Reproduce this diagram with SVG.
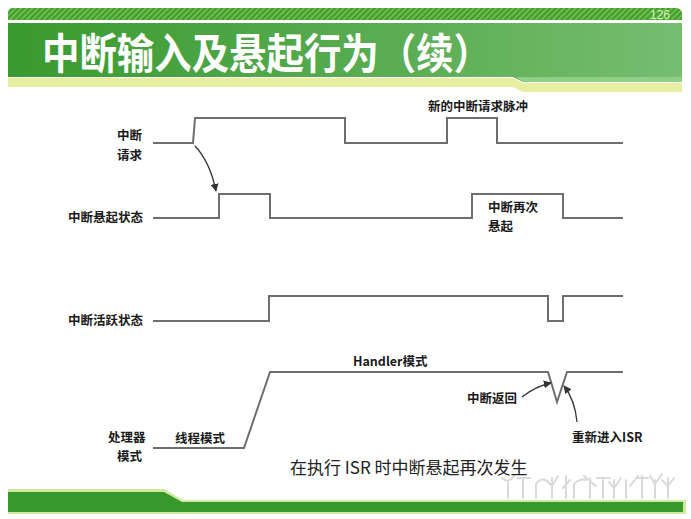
<svg xmlns="http://www.w3.org/2000/svg" width="691" height="519" viewBox="0 0 691 519">
<defs>
<linearGradient id="bandGrad" x1="0" y1="0" x2="1" y2="0">
<stop offset="0" stop-color="#399a2f"/>
<stop offset="0.6" stop-color="#5cae55"/>
<stop offset="1" stop-color="#76bd70"/>
</linearGradient>
<pattern id="hatch" width="4" height="4" patternUnits="userSpaceOnUse" patternTransform="rotate(45)">
<rect width="4" height="4" fill="#3f9e2c"/>
<rect width="1.5" height="4" fill="#7cc257"/>
</pattern>
<marker id="arr" viewBox="0 0 10 10" refX="9" refY="5" markerWidth="8" markerHeight="8" orient="auto" markerUnits="userSpaceOnUse">
<path d="M0,0 L10,5 L0,10 Z" fill="#333"/>
</marker>
<style>
.wave{fill:none;stroke:#6e6e6e;stroke-width:2}
.lbl{font-family:"Noto Sans CJK SC","Noto Sans",sans-serif;font-size:12.5px;font-weight:bold;fill:#1a1a1a}
.conn{fill:none;stroke:#333;stroke-width:1.3;marker-end:url(#arr)}
.plant{fill:none;stroke:#dadada;stroke-width:2;stroke-linecap:round}
</style>
</defs>
<rect width="691" height="519" fill="#ffffff"/>
<g id="header">
<path d="M8,13 Q8,8 13,8 H676 Q682,8 682,14 V20 H8 Z" fill="url(#hatch)"/>
<path d="M8,78 H513 L523,83 H682 V92 H523 L513,87 H8 Z" fill="#e6eea2"/>
<path d="M8,23 H682 V82 H523 L513,77 H8 Z" fill="url(#bandGrad)"/>
<path d="M516,77 H682 V82 H523 Z" fill="#8fcf85"/>
<text x="650" y="19" font-family="'Liberation Sans',Arial,sans-serif" font-size="12" fill="#d9f2c4">126</text>
<text x="42" y="69" font-family="'Noto Sans CJK SC',sans-serif" font-size="42" font-weight="bold" fill="#ffffff" textLength="449" lengthAdjust="spacingAndGlyphs">中断输入及悬起行为（续）</text>
</g>
<g id="footer">
<path d="M8,489 H164 L183,500 H686 V514 H8 Z" fill="#cfe9a0"/>
<path d="M8,492 H164 L182,502 H683 V512 H8 Z" fill="#37992b"/>
</g>
<g id="plants">
<path class="plant" d="M508,498 V482 M502,478 Q508,484 514,476 M523,498 V478 M517,478 H530 M536,498 V484 Q540,478 545,480 M552,498 V478 M546,480 L552,486 L558,476 M563,488 L570,480 M566,498 V476 M574,498 V484 Q580,478 586,480 M590,498 V478 M584,476 L596,486 M603,498 V480 M597,478 H610 M614,498 V480 M609,482 L614,488 L621,478 M626,498 V480 M630,486 L638,476 M642,498 V476 M636,478 L648,478 M655,498 V480 M650,476 L655,484 L662,474 M668,498 V478 M662,480 L668,486 L674,478"/>
</g>
<g id="row-request">
<text class="lbl" x="117" y="140">中断</text>
<text class="lbl" x="117" y="160">请求</text>
<path class="wave" d="M153,143 H193 L195,118 H345 V143 H447 V118 H497 V143 H623"/>
<text class="lbl" x="428" y="111">新的中断请求脉冲</text>
</g>
<g id="row-pending">
<text class="lbl" x="68" y="222">中断悬起状态</text>
<path class="wave" d="M153,218 H219 V194 H270 V218 H472 V194 H563 V218 H623"/>
<text class="lbl" x="488" y="212">中断再次</text>
<text class="lbl" x="488" y="231">悬起</text>
</g>
<g id="row-active">
<text class="lbl" x="68" y="325">中断活跃状态</text>
<path class="wave" d="M153,321 H269 V296 H548 V321 H563 V296 H623"/>
</g>
<g id="row-mode">
<text class="lbl" x="108" y="442">处理器</text>
<text class="lbl" x="117" y="461">模式</text>
<text class="lbl" x="175" y="443">线程模式</text>
<text class="lbl" x="353" y="366">Handler模式</text>
<path class="wave" d="M153,448 H244 L270,372 H548 L557,402 L567,372 H623"/>
<text class="lbl" x="467" y="403">中断返回</text>
<text class="lbl" x="572" y="442">重新进入ISR</text>
</g>
<g id="connectors">
<path class="conn" d="M195,146 Q210,162 216,191"/>
<path class="conn" d="M522,397 Q536,386 551,383"/>
<path class="conn" d="M577,422 Q575,400 564,386"/>
</g>
<text x="290" y="474" font-family="'Noto Sans CJK SC',sans-serif" font-size="17" fill="#222">在执行 ISR 时中断悬起再次发生</text>
</svg>
